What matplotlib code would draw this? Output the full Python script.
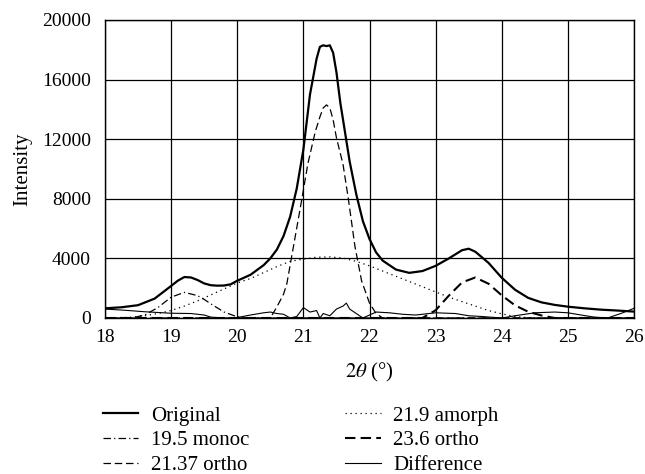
import matplotlib
matplotlib.use("Agg")
import matplotlib.pyplot as plt

# ---- data ----
orig_x = [18.0, 18.25, 18.5, 18.75, 19.0, 19.1, 19.2, 19.3, 19.4, 19.5, 19.6, 19.7, 19.8, 19.9, 20.0,
          20.2, 20.4, 20.5, 20.6, 20.7, 20.8, 20.9, 21.0, 21.1, 21.2, 21.25, 21.3, 21.35, 21.4, 21.45,
          21.5, 21.56, 21.6, 21.7, 21.8, 21.9, 22.0, 22.1, 22.2, 22.4, 22.6, 22.8, 23.0, 23.2, 23.4,
          23.5, 23.6, 23.8, 24.0, 24.2, 24.4, 24.6, 24.8, 25.0, 25.25, 25.5, 25.75, 26.0]
orig_y = [650, 720, 860, 1300, 2150, 2500, 2750, 2720, 2550, 2320, 2200, 2170, 2180, 2260, 2500,
          2900, 3550, 4000, 4600, 5500, 6800, 8700, 11300, 15000, 17400, 18200, 18300, 18250, 18300, 17800,
          16500, 14400, 13300, 10500, 8300, 6500, 5300, 4400, 3850, 3250, 3030, 3150, 3500, 4000, 4550,
          4650, 4450, 3700, 2700, 1900, 1350, 1050, 880, 760, 650, 560, 500, 430]

monoc_x = [18.0, 18.4, 18.6, 18.8, 19.0, 19.2, 19.4, 19.5, 19.6, 19.8, 20.0, 20.1, 26.0]
monoc_y = [0, 0, 200, 700, 1400, 1720, 1500, 1250, 950, 400, 80, 0, 0]

o2137_x = [18.0, 20.5, 20.6, 20.7, 20.75, 20.85, 20.95, 21.07, 21.18, 21.25, 21.3, 21.35, 21.4,
           21.45, 21.5, 21.6, 21.68, 21.78, 21.88, 22.0, 22.1, 22.2, 26.0]
o2137_y = [0, 0, 750, 1600, 2300, 4800, 7300, 10400, 12500, 13500, 14100, 14300, 14100,
           13300, 12100, 10300, 8000, 4800, 2500, 1000, 300, 0, 0]

amor_x = [18.0, 18.4, 18.6, 18.8, 19.0, 19.2, 19.4, 19.6, 19.8, 20.0, 20.2, 20.4, 20.6, 20.8,
          21.0, 21.2, 21.4, 21.6, 21.8, 22.0, 22.2, 22.4, 22.6, 22.8, 23.0, 23.2, 23.4, 23.6,
          23.8, 24.0, 24.2, 24.4, 24.6, 26.0]
amor_y = [0, 50, 150, 300, 500, 800, 1150, 1550, 1950, 2350, 2650, 3050, 3450, 3800,
          3950, 4080, 4100, 4020, 3800, 3500, 3150, 2800, 2450, 2100, 1750, 1400, 1100, 800,
          500, 280, 100, 20, 0, 0]

o236_x = [18.0, 22.8, 23.0, 23.2, 23.4, 23.6, 23.8, 24.0, 24.2, 24.4, 24.6, 24.8, 26.0]
o236_y = [0, 0, 520, 1500, 2390, 2720, 2300, 1520, 850, 420, 170, 0, 0]

diff_x = [18.0, 18.3, 18.6, 19.0, 19.3, 19.5, 19.6, 19.8, 20.0, 20.2, 20.4, 20.5, 20.6, 20.7,
          20.8, 20.9, 21.0, 21.1, 21.2, 21.25, 21.3, 21.4, 21.5, 21.6, 21.65, 21.7, 21.8, 21.9,
          22.0, 22.1, 22.3, 22.5, 22.7, 23.0, 23.3, 23.5, 23.7, 24.0, 24.2, 24.5, 24.8, 25.0,
          25.2, 25.4, 25.6, 25.8, 26.0]
diff_y = [600, 520, 420, 320, 300, 200, 60, 0, 30, 200, 350, 400, 300, 250,
          0, 100, 700, 400, 500, 0, 300, 150, 600, 800, 1000, 600, 300, 0,
          200, 400, 350, 250, 200, 350, 300, 150, 100, 0, 150, 350, 400, 350,
          200, 60, 0, 300, 650]

xticks = [18, 19, 20, 21, 22, 23, 24, 25, 26]
yticks = [0, 4000, 8000, 12000, 16000, 20000]

plt.rcParams['font.family'] = ['Liberation Serif', 'DejaVu Serif']
plt.rcParams['mathtext.fontset'] = 'stix'
FS_T = 14
FS_L = 15

fig = plt.figure(figsize=(6.45, 4.74), dpi=100)
ax = fig.add_axes([105/645, 1 - 318/474, (634 - 105)/645, (318 - 20)/474])

ax.plot(orig_x, orig_y, color='black', lw=1.6, label='Original', zorder=5)
ax.plot(monoc_x, monoc_y, color='black', lw=0.9, linestyle=(0, (6, 2.5, 1, 2.5)), label='19.5 monoc')
ax.plot(o2137_x, o2137_y, color='black', lw=0.9, linestyle=(0, (6, 3)), label='21.37 ortho')
ax.plot(amor_x, amor_y, color='black', lw=0.9, linestyle=(0, (1, 3)), label='21.9 amorph')
ax.plot(o236_x, o236_y, color='black', lw=1.5, linestyle=(0, (5, 2.5)), label='23.6 ortho')
ax.plot(diff_x, diff_y, color='black', lw=0.8, label='Difference')

ax.set_xlim(18, 26)
ax.set_ylim(0, 20000)
ax.set_xticks(xticks)
ax.set_yticks(yticks)
ax.set_xticklabels([str(t) for t in xticks])
ax.set_yticklabels([str(t) for t in yticks])
ax.tick_params(axis='y', length=0, labelsize=FS_T, pad=10)
ax.tick_params(axis='x', length=0, labelsize=FS_T, pad=8)
ax.grid(True, color='black', lw=0.9)
ax.set_axisbelow(True)
for s in ax.spines.values():
    s.set_linewidth(1.0)
    s.set_color('black')

ax.set_ylabel('Intensity', fontsize=FS_L, labelpad=7)
ax.set_xlabel(r'$2\theta$ (°)', fontsize=FS_L, labelpad=11)

handles, labels = ax.get_legend_handles_labels()
fig.legend(handles, labels, ncol=2, loc='upper left', bbox_to_anchor=(103/645, 1 - 406/474),
           frameon=False, fontsize=FS_L, borderpad=0, borderaxespad=0, handlelength=1.7,
           handletextpad=0.6, columnspacing=4.6, labelspacing=0.25)

fig.savefig('out.png', dpi=100)
